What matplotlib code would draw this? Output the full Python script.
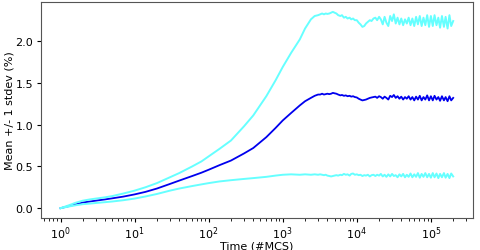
import matplotlib
matplotlib.use("Agg")
import matplotlib.pyplot as plt

# Time axis (#MCS)
time_smooth = [1, 1.3, 1.6, 2, 2.5, 3, 4, 5, 7, 10, 14, 20, 30, 40, 60, 80, 100,
               140, 200, 300, 400, 600, 800, 1000, 1300, 1700, 2000, 2400, 2700]
time_plateau = [3000, 3200, 3400, 3600, 3800, 4000, 4250, 4500, 4750, 5000, 5300,
                5600, 6000, 6300, 6700, 7100, 7500, 8000, 8400, 8900, 9400, 10000,
                10600, 11200, 11900, 12600, 13300, 14100, 15000, 15800, 16800, 17800,
                18800, 20000, 21100, 22400, 23700, 25100, 26600, 28200, 29900, 31600,
                33500, 35500, 37600, 39800, 42200, 44700, 47300, 50100, 53100, 56200,
                59600, 63100, 66800, 70800, 75000, 79400, 84100, 89100, 94400, 100000,
                106000, 112000, 119000, 126000, 133000, 141000, 150000, 158000, 168000,
                178000, 188000, 200000]

mean_smooth = [0.0, 0.025, 0.045, 0.068, 0.08, 0.09, 0.105, 0.118, 0.138, 0.165,
               0.195, 0.235, 0.29, 0.33, 0.385, 0.425, 0.46, 0.515, 0.57, 0.655,
               0.72, 0.85, 0.96, 1.05, 1.14, 1.23, 1.28, 1.32, 1.345]
mean_plateau = [1.36, 1.36, 1.37, 1.36, 1.365, 1.37, 1.365, 1.37, 1.38, 1.375, 1.37,
                1.36, 1.35, 1.355, 1.345, 1.35, 1.34, 1.345, 1.335, 1.34, 1.33, 1.325,
                1.31, 1.30, 1.29, 1.295, 1.30, 1.31, 1.32, 1.325, 1.33, 1.335,
                1.32, 1.34, 1.33, 1.31, 1.335, 1.32, 1.30, 1.345, 1.33, 1.355,
                1.32, 1.34, 1.31, 1.335, 1.30, 1.33, 1.31, 1.34, 1.30, 1.33,
                1.29, 1.335, 1.30, 1.345, 1.29, 1.33, 1.30, 1.35, 1.29, 1.34,
                1.29, 1.345, 1.30, 1.33, 1.285, 1.34, 1.29, 1.33, 1.28,
                1.34, 1.29, 1.32]

upper_smooth = [0.0, 0.035, 0.065, 0.09, 0.105, 0.115, 0.13, 0.145, 0.175, 0.21,
                0.25, 0.30, 0.37, 0.42, 0.50, 0.56, 0.62, 0.71, 0.81, 0.98,
                1.11, 1.34, 1.53, 1.69, 1.86, 2.02, 2.15, 2.26, 2.30]
upper_plateau = [2.31, 2.32, 2.33, 2.32, 2.33, 2.325, 2.33, 2.34, 2.35, 2.34, 2.33,
                 2.31, 2.30, 2.31, 2.28, 2.29, 2.27, 2.28, 2.26, 2.27, 2.25, 2.25,
                 2.22, 2.20, 2.17, 2.18, 2.21, 2.23, 2.25, 2.24, 2.27, 2.28,
                 2.25, 2.29, 2.26, 2.20, 2.29, 2.22, 2.18, 2.30, 2.24, 2.32,
                 2.21, 2.28, 2.20, 2.27, 2.19, 2.26, 2.21, 2.28, 2.19, 2.27,
                 2.18, 2.29, 2.20, 2.30, 2.18, 2.28, 2.19, 2.31, 2.17, 2.30,
                 2.18, 2.31, 2.19, 2.28, 2.16, 2.30, 2.17, 2.29, 2.15,
                 2.31, 2.18, 2.24]

lower_smooth = [0.0, 0.02, 0.035, 0.048, 0.055, 0.062, 0.072, 0.08, 0.095, 0.115,
                0.14, 0.17, 0.21, 0.235, 0.265, 0.285, 0.30, 0.32, 0.335, 0.35,
                0.36, 0.375, 0.39, 0.40, 0.405, 0.40, 0.405, 0.40, 0.405]
lower_plateau = [0.40, 0.405, 0.40, 0.395, 0.40, 0.39, 0.385, 0.38, 0.385, 0.39, 0.395,
                 0.39, 0.40, 0.395, 0.41, 0.40, 0.405, 0.39, 0.41, 0.415, 0.40, 0.405,
                 0.395, 0.40, 0.385, 0.395, 0.39, 0.40, 0.38, 0.395, 0.40, 0.385,
                 0.40, 0.39, 0.41, 0.38, 0.40, 0.375, 0.405, 0.38, 0.41, 0.385,
                 0.395, 0.37, 0.405, 0.38, 0.41, 0.37, 0.40, 0.375, 0.415, 0.37,
                 0.405, 0.375, 0.42, 0.365, 0.41, 0.375, 0.42, 0.37, 0.41, 0.365,
                 0.42, 0.37, 0.415, 0.36, 0.41, 0.37, 0.42, 0.365, 0.41,
                 0.36, 0.415, 0.38]

time = time_smooth + time_plateau
mean = mean_smooth + mean_plateau
upper = upper_smooth + upper_plateau
lower = lower_smooth + lower_plateau

plt.rcParams['font.family'] = ['DejaVu Sans']
fig = plt.figure(figsize=(4.81, 2.51), dpi=100)
ax = fig.add_axes([0.085, 0.1275, 0.898, 0.8605])
ax.plot(time, mean, color='#0000ee', lw=1.3)
ax.plot(time, upper, color='#66ffff', lw=1.4)
ax.plot(time, lower, color='#66ffff', lw=1.4)
ax.set_xscale('log')
ax.set_xlabel('Time (#MCS)', fontsize=8, labelpad=0)
ax.set_ylabel('Mean +/- 1 stdev (%)', fontsize=8, labelpad=1)
ax.tick_params(labelsize=8, length=3)
ax.tick_params(axis='x', pad=1.5)
ax.tick_params(axis='y', pad=2.5)
ax.tick_params(which='minor', length=1.8)
for s in ax.spines.values():
    s.set_color('#555555')
    s.set_linewidth(0.8)
fig.savefig('out.png', dpi=100)
